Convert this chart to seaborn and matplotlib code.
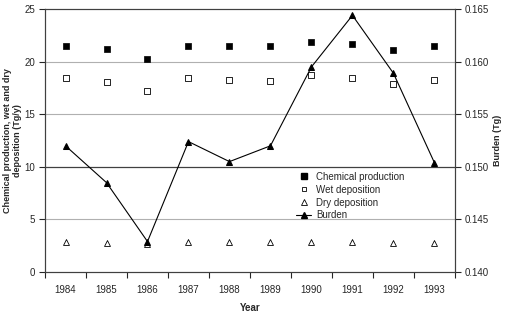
import numpy as np
import pandas as pd
import matplotlib
matplotlib.use("Agg")
import matplotlib.pyplot as plt
import seaborn as sns
from matplotlib.lines import Line2D

years = [1984, 1985, 1986, 1987, 1988, 1989, 1990, 1991, 1992, 1993]
chem_prod = [21.5, 21.2, 20.25, 21.5, 21.45, 21.5, 21.9, 21.7, 21.1, 21.5]
wet_dep = [18.45, 18.1, 17.2, 18.4, 18.3, 18.2, 18.7, 18.45, 17.9, 18.3]
dry_dep = [2.85, 2.8, 2.7, 2.85, 2.85, 2.85, 2.85, 2.85, 2.8, 2.8]
burden = [0.1520, 0.1485, 0.1429, 0.1524, 0.1505, 0.1520, 0.1595, 0.1644, 0.1589, 0.1504]

df = pd.DataFrame({"year": years, "chem": chem_prod, "wet": wet_dep,
                   "dry": dry_dep, "burden": burden})

sns.set_style("white")
plt.rcParams["font.family"] = ["Liberation Sans", "DejaVu Sans"]

fig = plt.figure(figsize=(5.06, 3.12), dpi=100)
ax = fig.add_axes([0.089, 0.128, 0.81, 0.843])

# grid lines
for v in [5, 15, 20]:
    ax.axhline(v, color="#b0b0b0", lw=0.8, zorder=0)
ax.axhline(10, color="#404040", lw=0.9, zorder=0)

sns.scatterplot(data=df, x="year", y="chem", ax=ax, marker="s", s=22,
                color="black", edgecolor="black", linewidth=0.5, zorder=3)
sns.scatterplot(data=df, x="year", y="wet", ax=ax, marker="s", s=16,
                facecolor="white", edgecolor="black", linewidth=0.6, zorder=3)
sns.scatterplot(data=df, x="year", y="dry", ax=ax, marker="^", s=18,
                facecolor="white", edgecolor="black", linewidth=0.6, zorder=3)

ax.set_ylim(0, 25)
ax.set_yticks([0, 5, 10, 15, 20, 25])
ax.set_xlim(1983.5, 1993.5)
ax.set_xticks(years)
ax.set_xticks(np.arange(1983.5, 1994, 1.0), minor=True)
ax.tick_params(axis="x", which="major", length=0, labelsize=7, pad=9)
ax.tick_params(axis="x", which="minor", length=4, width=0.8, direction="out", bottom=True)
ax.tick_params(axis="y", length=4, width=0.8, direction="out", labelsize=7, left=True, pad=3)
ax.set_xlabel("Year", fontsize=7, fontweight="bold", labelpad=6)
ax.set_ylabel("Chemical production, wet and dry\ndeposition (Tg/y)", fontsize=6.5,
              fontweight="bold", labelpad=2, linespacing=1.1)
for s in ax.spines.values():
    s.set_color("#404040")
    s.set_linewidth(0.8)

ax2 = ax.twinx()
sns.lineplot(data=df, x="year", y="burden", ax=ax2, color="black", lw=0.8,
             marker="^", markersize=5, markeredgecolor="black", zorder=4)
ax2.set_ylim(0.140, 0.165)
ax2.set_yticks([0.140, 0.145, 0.150, 0.155, 0.160, 0.165])
ax2.set_yticklabels(["0.140", "0.145", "0.150", "0.155", "0.160", "0.165"])
ax2.tick_params(axis="y", length=4, width=0.8, direction="out", labelsize=7, right=True, pad=3)
ax2.set_ylabel("Burden (Tg)", fontsize=6.5, fontweight="bold", labelpad=3)
ax2.set_xlabel("")
for s in ax2.spines.values():
    s.set_color("#404040")
    s.set_linewidth(0.8)

handles = [
    Line2D([], [], ls="none", marker="s", ms=4, mfc="black", mec="black"),
    Line2D([], [], ls="none", marker="s", ms=3.5, mfc="white", mec="black", mew=0.6),
    Line2D([], [], ls="none", marker="^", ms=4, mfc="white", mec="black", mew=0.6),
    Line2D([], [], color="black", lw=0.8, marker="^", ms=4),
]
labels = ["Chemical production", "Wet deposition", "Dry deposition", "Burden"]
ax2.legend(handles, labels, loc="upper left", bbox_to_anchor=(0.6, 0.4),
           frameon=False, fontsize=7, handlelength=1.6, handletextpad=0.5,
           labelspacing=0.3, borderpad=0)

fig.savefig("out.png", dpi=100)
